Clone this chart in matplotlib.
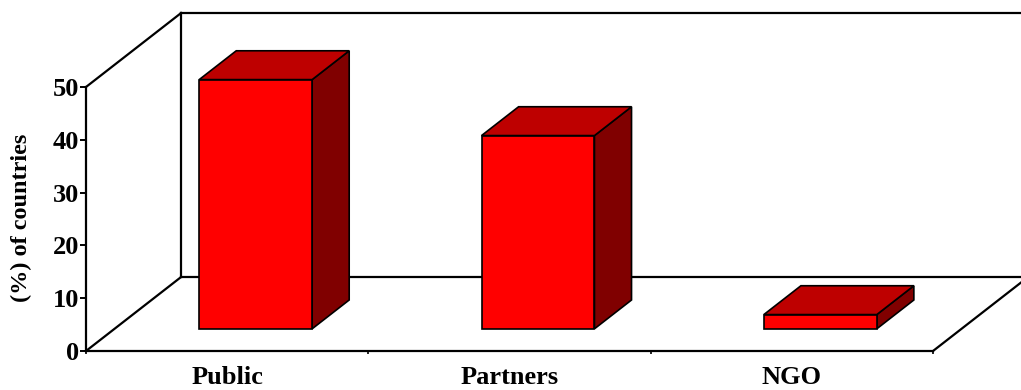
import matplotlib
matplotlib.use("Agg")
import matplotlib.pyplot as plt
from matplotlib.patches import Polygon

# values
categories = ["Public", "Partners", "NGO"]
values = [47.2, 36.6, 2.7]
y_ticks = [0, 10, 20, 30, 40, 50]

# oblique depth of the floor, in data units (categories, percent)
DX = 0.3365
DY = 14.0
BAR_W = 0.4
D0, D1 = 0.3, 0.69

FRONT = "#FF0000"
TOP = "#BE0000"
SIDE = "#800000"

plt.rcParams["font.family"] = ["Liberation Serif", "DejaVu Serif"]
plt.rcParams["font.weight"] = "bold"


def proj(x, y, d):
    return (x + d * DX, y + d * DY)


fig = plt.figure(figsize=(10.21, 3.90), dpi=100)
ax = fig.add_axes([86 / 1021, 39 / 390, 847 / 1021, 264 / 390])
ax.set_xlim(0, 3)
ax.set_ylim(0, 50)
ax.patch.set_visible(False)

for s in ["top", "right"]:
    ax.spines[s].set_visible(False)
for s in ["left", "bottom"]:
    ax.spines[s].set_linewidth(1.6)

# back wall and floor outline
ymax = 50
lw = 1.6
far = 3.2
lines = [
    [proj(0, ymax, 0), proj(0, ymax, 1)],
    [proj(0, 0, 0), proj(0, 0, 1)],
    [proj(0, 0, 1), proj(0, ymax, 1)],
    [proj(0, ymax, 1), proj(far, ymax, 1)],
    [proj(0, 0, 1), proj(far, 0, 1)],
    [proj(3, 0, 0), proj(3, 0, 1)],
]
for seg in lines:
    xs, ys = zip(*seg)
    ax.plot(xs, ys, color="black", lw=lw, clip_on=False, zorder=1,
            solid_capstyle="projecting")

# 3d bars
for i, v in enumerate(values):
    x0 = i + 0.5 - BAR_W / 2
    x1 = i + 0.5 + BAR_W / 2
    side = [proj(x1, 0, D0), proj(x1, 0, D1), proj(x1, v, D1), proj(x1, v, D0)]
    top = [proj(x0, v, D0), proj(x1, v, D0), proj(x1, v, D1), proj(x0, v, D1)]
    front = [proj(x0, 0, D0), proj(x1, 0, D0), proj(x1, v, D0), proj(x0, v, D0)]
    for pts, c in [(side, SIDE), (top, TOP), (front, FRONT)]:
        ax.add_patch(Polygon(pts, closed=True, facecolor=c, edgecolor="black",
                             lw=1.2, clip_on=False, zorder=3))

ax.set_yticks(y_ticks)
ax.set_yticklabels([str(t) for t in y_ticks])
ax.tick_params(axis="y", length=4, width=1.4, pad=1, labelsize=19)

ax.set_xticks([0, 1, 2, 3])
ax.set_xticklabels([])
ax.tick_params(axis="x", which="major", length=2.5, width=1.2, direction="out")
ax.set_xticks([0.5, 1.5, 2.5], minor=True)
ax.set_xticklabels(categories, minor=True)
ax.tick_params(axis="x", which="minor", length=0, pad=11, labelsize=19)

ax.set_ylabel("(%) of countries", fontsize=17.5, fontweight="bold")
ax.yaxis.set_label_coords(-0.0638, 0.506)

fig.savefig("out.png", dpi=100)
